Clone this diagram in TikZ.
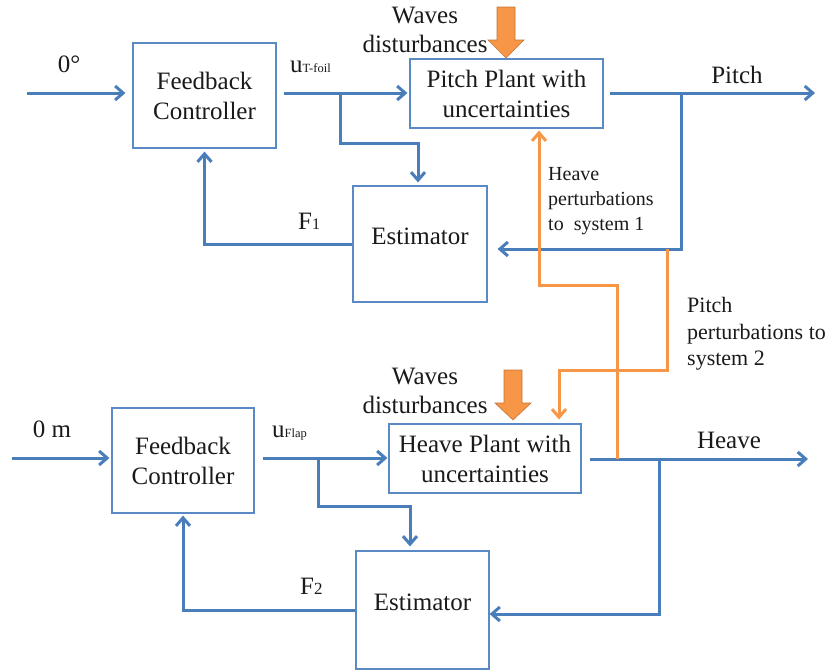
\documentclass[tikz,border=0pt]{standalone}
\usepackage{fontspec}
\setmainfont{Liberation Serif}
\usetikzlibrary{arrows.meta}
\definecolor{lineblue}{HTML}{4A7EBB}
\definecolor{boxblue}{HTML}{5A8AC6}
\definecolor{pertorange}{HTML}{F79646}
\definecolor{arrowedge}{HTML}{C0753A}
\definecolor{txt}{HTML}{1A1A1A}
\tikzset{
  blk/.style={draw=boxblue, line width=1.2pt, fill=white, align=center, inner sep=0pt,
    text=txt, font=\fontsize{25}{30}\selectfont},
  sig/.style={draw=lineblue, line width=3pt, line join=miter},
  sigarr/.style={sig, -{Straight Barb[length=8pt,width=14pt]}},
  pert/.style={draw=pertorange, line width=3pt},
  pertarr/.style={pert, -{Straight Barb[length=8pt,width=14pt]}},
  blockarrow/.style={fill=pertorange, draw=arrowedge, line width=0.6pt, line join=miter},
  lbl/.style={text=txt, inner sep=0pt, font=\fontsize{25}{30}\selectfont},
  slbl/.style={text=txt, inner sep=0pt, font=\fontsize{20}{24}\selectfont},
  mlbl/.style={text=txt, inner sep=0pt, font=\fontsize{22}{26}\selectfont},
}
\begin{document}
\begin{tikzpicture}[x=1pt,y=-1pt]
\useasboundingbox (0,0) rectangle (830,670);

% ---------- boxes ----------
\node[blk, minimum width=143pt, minimum height=105pt] (ctrl1) at (204.5,95.5) {Feedback\\Controller};
\node[blk, minimum width=193pt, minimum height=69pt] (pp) at (506.5,93.5) {Pitch Plant with\\uncertainties};
\node[blk, minimum width=134pt, minimum height=116pt, text depth=15pt] (est1) at (420,244) {Estimator};
\node[blk, minimum width=142pt, minimum height=105pt] (ctrl2) at (183,460.5) {Feedback\\Controller};
\node[blk, minimum width=192pt, minimum height=69pt] (hp) at (485,458.5) {Heave Plant with\\uncertainties};
\node[blk, minimum width=133pt, minimum height=118pt, text depth=15pt] (est2) at (422.5,610) {Estimator};

% ---------- coordinates ----------
\coordinate (in1) at (27,93);
\coordinate (j1) at (340,93);
\coordinate (j1d) at (340,143);
\coordinate (j1e) at (418,143);
\coordinate (out1) at (815,93);
\coordinate (po1) at (681,93);
\coordinate (po1d) at (681,249);
\coordinate (pp1) at (667,249);
\coordinate (pp2) at (667,370);
\coordinate (pp3) at (559,370);
\coordinate (hv1) at (617,459);
\coordinate (hv2) at (617,285);
\coordinate (hv3) at (539,285);

\coordinate (in2) at (12,458);
\coordinate (j2) at (318,458);
\coordinate (j2d) at (318,506);
\coordinate (j2e) at (410,506);
\coordinate (out2) at (808,459);
\coordinate (hb) at (659,459);
\coordinate (hbd) at (659,614);

% ---------- top loop ----------
\draw[sigarr, shorten >=7pt] (in1) -- (in1 -| ctrl1.west);
\draw[sigarr, shorten <=7pt, shorten >=2pt] (in1 -| ctrl1.east) -- (in1 -| pp.west);
\draw[sigarr, shorten >=3pt] (j1) -- (j1d) -- (j1e) -- (j1e |- est1.north);
\draw[sigarr, shorten <=6pt] (in1 -| pp.east) -- (out1);
\draw[sigarr, shorten >=10pt] (po1) -- (po1d) -- (po1d -| est1.east);
\draw[sigarr, shorten >=3pt] (est1.west) -- (est1.west -| ctrl1.south) -- (ctrl1.south);

% ---------- bottom loop ----------
\draw[sigarr, shorten >=2pt] (in2) -- (in2 -| ctrl2.west);
\draw[sigarr, shorten <=8pt, shorten >=1pt] (in2 -| ctrl2.east) -- (in2 -| hp.west);
\draw[sigarr, shorten >=4pt] (j2) -- (j2d) -- (j2e) -- (j2e |- est2.north);
\draw[sigarr, shorten <=8pt] (out2 -| hp.east) -- (out2);
\draw[sigarr] (hb) -- (hbd) -- (hbd -| est2.east);
\draw[sigarr, shorten >=2pt] (est2.west) -- (est2.west -| ctrl2.south) -- (ctrl2.south);

% ---------- cross perturbations ----------
\draw[pertarr, shorten >=2pt] (hv1) -- (hv2) -- (hv3) -- (hv3 |- pp.south);
\draw[pertarr, shorten >=4pt] (pp1) -- (pp2) -- (pp3) -- (pp3 |- hp.north);

% ---------- wave block arrows ----------
\filldraw[blockarrow] (497,7) -- (515,7) -- (515,40) -- (524,40) -- (506,58) -- (488,40) -- (497,40) -- cycle;
\filldraw[blockarrow] (504,370) -- (522,370) -- (522,403) -- (531,403) -- (513,420) -- (495,403) -- (504,403) -- cycle;

% ---------- labels ----------
\node[lbl, anchor=base] (ref1) at (69,72) {0°};
\node[lbl, anchor=base west] (u1) at (290,72) {u{\fontsize{12.5}{14}\selectfont T-foil}};
\node[lbl, anchor=base west] (f1) at (298,229) {F{\fontsize{16}{18}\selectfont 1}};
\node[lbl, anchor=base] (w1a) at (425,23) {Waves};
\node[lbl, anchor=base] (w1b) at (425,52) {disturbances};
\node[lbl, anchor=base] (pitch) at (737,83) {Pitch};
\node[slbl, anchor=base west] (hpa) at (548,180) {Heave};
\node[slbl, anchor=base west] (hpb) at (548,205) {perturbations};
\node[slbl, anchor=base west] (hpc) at (548,230) {to~ system 1};

\node[mlbl, anchor=base west] (ppa) at (687,312) {Pitch};
\node[mlbl, anchor=base west] (ppb) at (687,339) {perturbations to};
\node[mlbl, anchor=base west] (ppc) at (687,365) {system 2};

\node[lbl, anchor=base] (ref2) at (52,437) {0 m};
\node[lbl, anchor=base west] (u2) at (272,437) {u{\fontsize{12.5}{14}\selectfont Flap}};
\node[lbl, anchor=base west] (f2) at (300,594) {F{\fontsize{17}{18}\selectfont 2}};
\node[lbl, anchor=base] (w2a) at (425,384) {Waves};
\node[lbl, anchor=base] (w2b) at (425,413) {disturbances};
\node[lbl, anchor=base] (heave) at (729,448) {Heave};
\end{tikzpicture}
\end{document}
